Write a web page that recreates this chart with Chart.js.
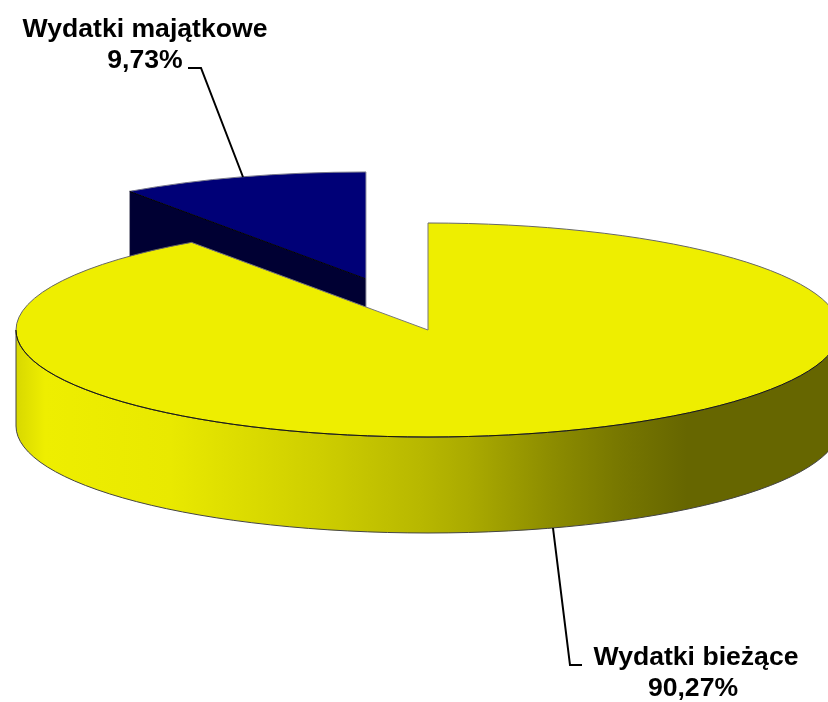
<!DOCTYPE html>
<html>
<head>
<meta charset="utf-8">
<script src="https://cdn.jsdelivr.net/npm/chart.js@4/dist/chart.umd.min.js"></script>
<style>
  html, body { margin: 0; padding: 0; background: #fff; }
  canvas { display: block; }
</style>
</head>
<body>
<canvas id="myChart" width="828" height="702"></canvas>
<script>
const categories = ['Wydatki bieżące', 'Wydatki majątkowe'];
const shares = [90.27, 9.73];
const topColors = ['#eeee00', '#000077'];

const pieRadius = 412;
const tilt = 107 / 412;     // squash of the pie disc
const depth = 96;           // height of the side wall
const explode = 206;        // how far the small slice is pulled out

function percentText(v) {
  return v.toFixed(2).replace('.', ',') + '%';
}

// position on the squashed rim
function rimPoint(arc, a, ox, oy) {
  return {
    x: arc.x + ox + Math.cos(a) * arc.outerRadius,
    y: arc.y + oy + Math.sin(a) * arc.outerRadius * tilt
  };
}

function drawTop(ctx, arc, ox, oy) {
  ctx.save();
  ctx.translate(arc.x + ox, arc.y + oy);
  ctx.scale(1, tilt);
  ctx.translate(-arc.x, -arc.y);
  arc.draw(ctx);
  ctx.restore();
}

function strokeLine(ctx, x1, y1, x2, y2, color) {
  ctx.beginPath();
  ctx.moveTo(x1, y1);
  ctx.lineTo(x2, y2);
  ctx.strokeStyle = color;
  ctx.lineWidth = 1;
  ctx.stroke();
}

function strokeRim(ctx, arc, ox, oy, from, to, color) {
  ctx.beginPath();
  ctx.ellipse(arc.x + ox, arc.y + oy, arc.outerRadius, arc.outerRadius * tilt, 0, from, to);
  ctx.strokeStyle = color;
  ctx.lineWidth = 1;
  ctx.stroke();
}

function drawRim(ctx, arc) {
  const gr = ctx.createLinearGradient(16, 0, 840, 0);
  const stops = [[16, '#d8d800'], [45, '#eeee00'], [170, '#e9e900'], [210, '#e2e200'], [320, '#cece00'],
    [420, '#b8b800'], [470, '#aaaa00'], [553, '#8c8c00'], [620, '#777700'], [687, '#666600'], [840, '#666600']];
  stops.forEach(s => gr.addColorStop((s[0] - 16) / 824, s[1]));

  const rx = arc.outerRadius, ry = rx * tilt;
  ctx.beginPath();
  ctx.ellipse(arc.x, arc.y, rx, ry, 0, 0, Math.PI);
  ctx.ellipse(arc.x, arc.y + depth, rx, ry, 0, Math.PI, 0, true);
  ctx.closePath();
  ctx.fillStyle = gr;
  ctx.fill();
  ctx.strokeStyle = '#444';
  ctx.lineWidth = 1;
  ctx.stroke();
}

function drawCutWall(ctx, arc, ox, oy) {
  const c = rimPoint(arc, arc.startAngle, ox, oy);
  const ax = arc.x + ox, ay = arc.y + oy;
  ctx.beginPath();
  ctx.moveTo(c.x, c.y);
  ctx.lineTo(ax, ay);
  ctx.lineTo(ax, ay + depth);
  ctx.lineTo(c.x, c.y + depth);
  ctx.closePath();
  ctx.fillStyle = '#000033';
  ctx.fill();
}

function leader(ctx, pts) {
  ctx.beginPath();
  pts.forEach((p, i) => i ? ctx.lineTo(p[0], p[1]) : ctx.moveTo(p[0], p[1]));
  ctx.strokeStyle = '#000';
  ctx.lineWidth = 2;
  ctx.stroke();
}

const pie3d = {
  id: 'pie3d',
  beforeDatasetDraw(chart) {
    const ctx = chart.ctx;
    const yellow = chart.getDatasetMeta(0).data[0];
    const blue = chart.getDatasetMeta(0).data[1];

    const half = (blue.startAngle + blue.endAngle) / 2;
    const ox = Math.cos(half) * explode;
    const oy = Math.sin(half) * explode * tilt;

    // pulled out slice first, the big one covers it
    drawCutWall(ctx, blue, ox, oy);
    drawTop(ctx, blue, ox, oy);
    const bx = blue.x + ox, by = blue.y + oy;
    const c = rimPoint(blue, blue.startAngle, ox, oy);
    const d = rimPoint(blue, blue.endAngle, ox, oy);
    strokeRim(ctx, blue, ox, oy, blue.startAngle, blue.endAngle, '#77778a');
    strokeLine(ctx, c.x, c.y, bx, by, '#000');
    strokeLine(ctx, d.x, d.y, bx, by + depth, '#9a9aa6');
    strokeLine(ctx, c.x, c.y, c.x, c.y + depth, '#9a9aa6');

    drawRim(ctx, yellow);
    drawTop(ctx, yellow, 0, 0);

    const s = rimPoint(yellow, yellow.startAngle, 0, 0);
    const e = rimPoint(yellow, yellow.endAngle, 0, 0);
    strokeRim(ctx, yellow, 0, 0, yellow.startAngle, yellow.endAngle, '#666');
    strokeLine(ctx, s.x, s.y, yellow.x, yellow.y, '#777');
    strokeLine(ctx, e.x, e.y, yellow.x, yellow.y, '#777');

    // darker line where the disc meets the wall
    strokeRim(ctx, yellow, 0, 0, 0, Math.PI, '#1a1a00');
    return false;
  },
  afterDraw(chart) {
    const ctx = chart.ctx;
    leader(ctx, [[188, 68], [201, 68], [243, 177]]);
    leader(ctx, [[553, 528], [570, 665], [582, 665]]);

    ctx.fillStyle = '#000';
    ctx.font = 'bold 26.6px "Liberation Sans", Arial, sans-serif';
    ctx.textAlign = 'center';
    ctx.textBaseline = 'alphabetic';
    ctx.fillText(categories[1], 145, 37);
    ctx.fillText(percentText(shares[1]), 145, 68);
    ctx.fillText(categories[0], 696, 665);
    ctx.fillText(percentText(shares[0]), 693, 696);
  }
};

const data = {
  labels: categories,
  datasets: [{
    data: shares,
    backgroundColor: topColors,
    borderWidth: 0,
    clip: false
  }]
};

const config = {
  type: 'pie',
  data: data,
  options: {
    responsive: false,
    animation: false,
    radius: pieRadius,
    layout: { padding: { left: 28, right: 0, top: 0, bottom: 42 } },
    plugins: {
      legend: { display: false },
      tooltip: { enabled: false }
    }
  },
  plugins: [pie3d]
};

const myChart = new Chart(document.getElementById('myChart'), config);
</script>
</body>
</html>
